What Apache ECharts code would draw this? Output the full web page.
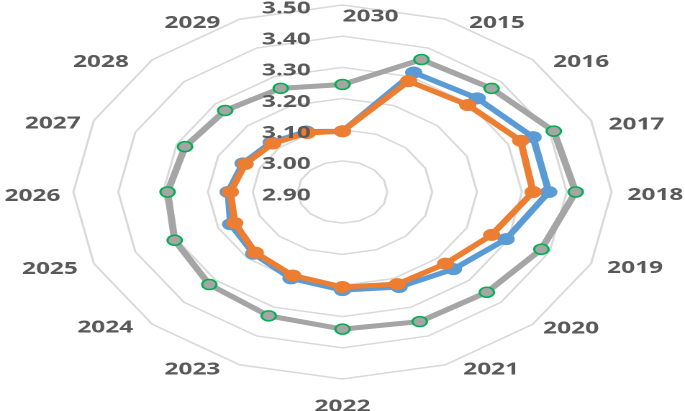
<!DOCTYPE html>
<html><head><meta charset="utf-8">
<script src="https://cdn.jsdelivr.net/npm/echarts@6/dist/echarts.min.js"></script>
<style>
html,body{margin:0;padding:0;background:#fff;overflow:hidden;}
#wrap{width:685px;height:411px;overflow:hidden;position:relative;}
#c{width:476px;height:411px;transform:scaleX(1.439);transform-origin:0 0;}
</style></head>
<body><div id="wrap"><div id="c"></div></div>
<script>
// categories in chronological order
const years = ['2015','2016','2017','2018','2019','2020','2021','2022','2023','2024','2025','2026','2027','2028','2029','2030'];
const seriesBlue   = [3.315, 3.325, 3.36, 3.36, 3.295, 3.25, 3.23, 3.215, 3.20, 3.18, 3.17, 3.155, 3.14, 3.125, 3.11, 3.095];
const seriesOrange = [3.285, 3.295, 3.33, 3.325, 3.26, 3.225, 3.22, 3.205, 3.19, 3.175, 3.16, 3.15, 3.135, 3.12, 3.105, 3.095];
const seriesGray   = [3.36, 3.37, 3.41, 3.42, 3.38, 3.355, 3.35, 3.34, 3.33, 3.32, 3.305, 3.29, 3.28, 3.27, 3.26, 3.245];
const axisMin = 2.9, axisMax = 3.5, axisSplits = 6;

// label padding tweaks [top, right, bottom, left] per category name
const namePad = {
  '2015':[0,0,44,27], '2016':[0,0,35,34], '2017':[0,0,13,38], '2018':[6,0,0,39],
  '2019':[31,0,0,37], '2020':[48,0,0,27], '2021':[62,0,0,23], '2022':[47,0,0,0],
  '2023':[62,24,0,0], '2024':[46,33,0,0], '2025':[33,37,0,0], '2026':[8,37,0,0],
  '2027':[0,35,15,0], '2028':[0,36,35,0], '2029':[0,24,44,0], '2030':[0,0,8,39]
};

// radar order: last year at top, then going around (ECharts places indicators counter-clockwise)
const order = [15,14,13,12,11,10,9,8,7,6,5,4,3,2,1,0];
const pick = arr => order.map(i => arr[i]);

const labelFont = {color:'#595959', fontWeight:'bold', fontSize:17, fontFamily:'"Open Sans", "Liberation Sans", sans-serif'};

const rich = {};
years.forEach(y => { rich['n' + y] = Object.assign({padding: namePad[y]}, labelFont); });

const common = {
  center:[238,192], radius:187, startAngle:90, splitNumber:axisSplits, shape:'polygon',
  axisLine:{show:false}, axisTick:{show:false}, splitArea:{show:false}
};

// main radar: grid + category names
const radarMain = Object.assign({}, common, {
  indicator: order.map(i => ({name: years[i], min: axisMin, max: axisMax})),
  axisName: Object.assign({formatter: n => '{n' + n + '|' + n + '}', rich: rich}, labelFont),
  nameGap: -28,
  axisLabel:{show:false},
  splitLine:{lineStyle:{color:'#D9D9D9', width:1.5}}
});

// overlay radar: only the value labels on the top axis, drawn above the series
const radarLabels = Object.assign({}, common, {
  z: 5,
  indicator: order.map((i, k) => {
    const o = {name: '', min: axisMin, max: axisMax};
    if (k === 0) o.axisLabel = Object.assign({
      show:true, margin:22, verticalAlign:'middle',
      formatter: v => '{v|' + Number(v).toFixed(2) + '}',
      rich:{v: Object.assign({padding:[7,0,0,0]}, labelFont)}
    }, labelFont);
    return o;
  }),
  axisName:{show:false},
  axisLabel:{show:false},
  splitLine:{show:false}
});

const chart = echarts.init(document.getElementById('c'), null, {renderer:'canvas', devicePixelRatio:2});
chart.setOption({
  animation:false,
  radar:[radarMain, radarLabels],
  series:[{
    type:'radar',
    radarIndex:0,
    data:[
      {value: pick(seriesBlue), name:'A', symbol:'circle', symbolSize:12,
       lineStyle:{color:'#5B9BD5', width:5}, itemStyle:{color:'#5B9BD5'}},
      {value: pick(seriesOrange), name:'B', symbol:'circle', symbolSize:12,
       lineStyle:{color:'#ED7D31', width:5}, itemStyle:{color:'#ED7D31'}},
      {value: pick(seriesGray), name:'C', symbol:'circle', symbolSize:10,
       lineStyle:{color:'#A5A5A5', width:5}, itemStyle:{color:'#A5A5A5', borderColor:'#00B050', borderWidth:1.5}}
    ]
  }]
});
</script></body></html>
